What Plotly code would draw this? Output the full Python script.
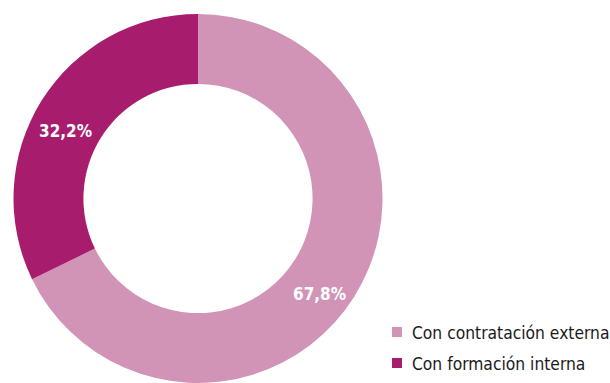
import plotly.graph_objects as go

# Share of companies by how they obtained the skill
labels = ["Con contratación externa", "Con formación interna"]
values = [67.8, 32.2]
colors = ["#D194B6", "#A81C6E"]

W, H = 610, 383
FONT = "DejaVu Sans Condensed, Liberation Sans Narrow, Arial Narrow, sans-serif"


def px(x):
    return x / W


def py(y):
    return 1 - y / H


fig = go.Figure(
    go.Pie(
        labels=labels,
        values=values,
        hole=0.621,
        sort=False,
        direction="clockwise",
        rotation=0,
        marker=dict(colors=colors, line=dict(width=0)),
        textinfo="none",
        hoverinfo="label+percent",
        showlegend=False,
        domain=dict(x=[px(12), px(384)], y=[0, py(14)]),
    )
)

# Percentage labels on the ring
label_pos = [(319, 294), (65, 131)]
for v, (x, y) in zip(values, label_pos):
    fig.add_annotation(
        x=px(x), y=py(y), xref="paper", yref="paper",
        text=f"{v:.1f}%".replace(".", ","),
        showarrow=False, xanchor="center", yanchor="middle",
        font=dict(family=FONT, size=17, color="white", weight="bold"),
    )

# Legend: coloured squares with category names
legend_rows = [332, 363]
for name, col, yc in zip(labels, colors, legend_rows):
    fig.add_shape(
        type="rect", xref="paper", yref="paper",
        x0=px(392), x1=px(402), y0=py(yc + 5), y1=py(yc - 5),
        fillcolor=col, line=dict(width=0),
    )
    fig.add_annotation(
        x=px(410), y=py(yc + 1), xref="paper", yref="paper",
        text=name, showarrow=False, xanchor="left", yanchor="middle",
        font=dict(family=FONT, size=17.3, color="#1a1a1a"),
    )

fig.update_layout(
    width=W,
    height=H,
    margin=dict(l=0, r=0, t=0, b=0),
    paper_bgcolor="white",
    plot_bgcolor="white",
    separators=",.",
    showlegend=False,
)

fig.write_html("out.html")
